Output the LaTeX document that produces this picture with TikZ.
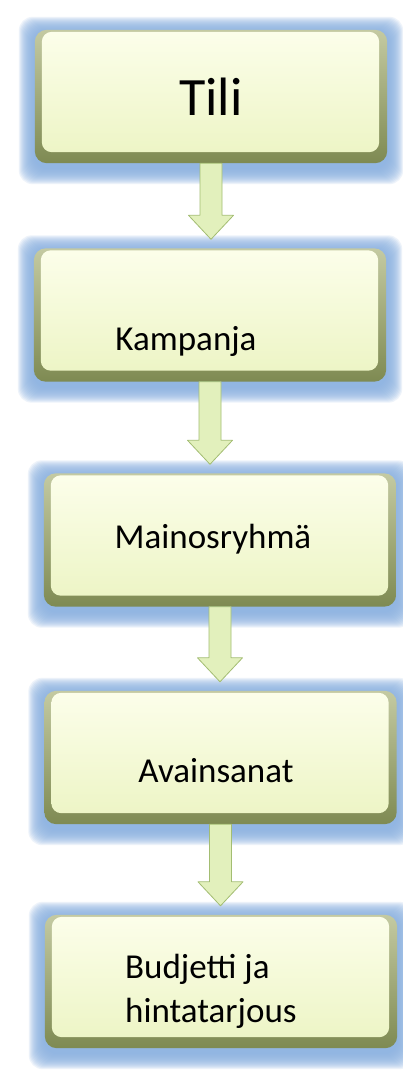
\documentclass[tikz,border=0pt]{standalone}
\usepackage{fontspec}
\setmainfont{Carlito}
\usetikzlibrary{calc}
\definecolor{glowblue}{HTML}{8DB3E2}
\definecolor{beveltop}{HTML}{C4CAA2}
\definecolor{bevelbot}{HTML}{7E8A52}
\definecolor{boxtop}{HTML}{FCFEEA}
\definecolor{boxbot}{HTML}{EDF5C6}
\definecolor{arrfill}{HTML}{E2F0BC}
\definecolor{arrline}{HTML}{A3BD72}
\tikzset{
  levelbox/.style={rectangle, minimum width=352pt, minimum height=133pt, inner sep=0pt},
  levellbl/.style={font=\fontsize{35}{44}\selectfont, inner sep=0pt},
  blockarrow/.style={fill=arrfill, draw=arrline, line width=0.8pt, line join=round},
}
\begin{document}
\begin{tikzpicture}[x=1pt,y=1pt]
\useasboundingbox[fill=white] (0,0) rectangle (403,-1070);
\node(k1) at (211,-96.5)[levelbox]  {};
\node(k2) at (210,-315)[levelbox]   {};
\node(k3) at (220,-540)[levelbox]   {};
\node(k4) at (220.5,-757.5)[levelbox] {};
\node(k5) at (221,-981.5)[levelbox] {};

% glow, bevel and face of each box
\foreach \k in {k1,k2,k3,k4,k5} {
  \foreach \g in {1,...,16}
    \fill[glowblue, opacity=0.15, rounded corners=14pt] ($(\k.south west)+(-\g,-\g-5)$) rectangle ($(\k.north east)+(\g,\g-3)$);
  \shade[top color=beveltop, bottom color=bevelbot, rounded corners=12pt] (\k.south west) rectangle (\k.north east);
  \shade[top color=boxtop, bottom color=boxbot, rounded corners=10pt] ($(\k.south west)+(7,11)$) rectangle ($(\k.north east)+(-8,-2)$);
}

\node(t1) at (k1.center)[font=\fontsize{54}{60}\selectfont, inner sep=0pt] {Tili};
\node(t2) at (186,-350)[levellbl, anchor=base] {Kampanja};
\node(t3) at (213,-548)[levellbl, anchor=base] {Mainosryhmä};
\node(t4) at (216,-782)[levellbl, anchor=base] {Avainsanat};
\node(t5) at (125,-1022)[levellbl, anchor=base west, align=left] {Budjetti ja\\hintatarjous};

\foreach \a/\b in {k1/k2,k2/k3,k3/k4,k4/k5}
  \filldraw[blockarrow] ($(\a.south)+(-11,0)$) -- ($(\a.south |- \b.north)+(-11,33)$)
    -- ($(\a.south |- \b.north)+(-22.5,33)$) -- ($(\a.south |- \b.north)+(0,9)$)
    -- ($(\a.south |- \b.north)+(22.5,33)$) -- ($(\a.south |- \b.north)+(11,33)$)
    -- ($(\a.south)+(11,0)$) -- cycle;

\end{tikzpicture}
\end{document}
